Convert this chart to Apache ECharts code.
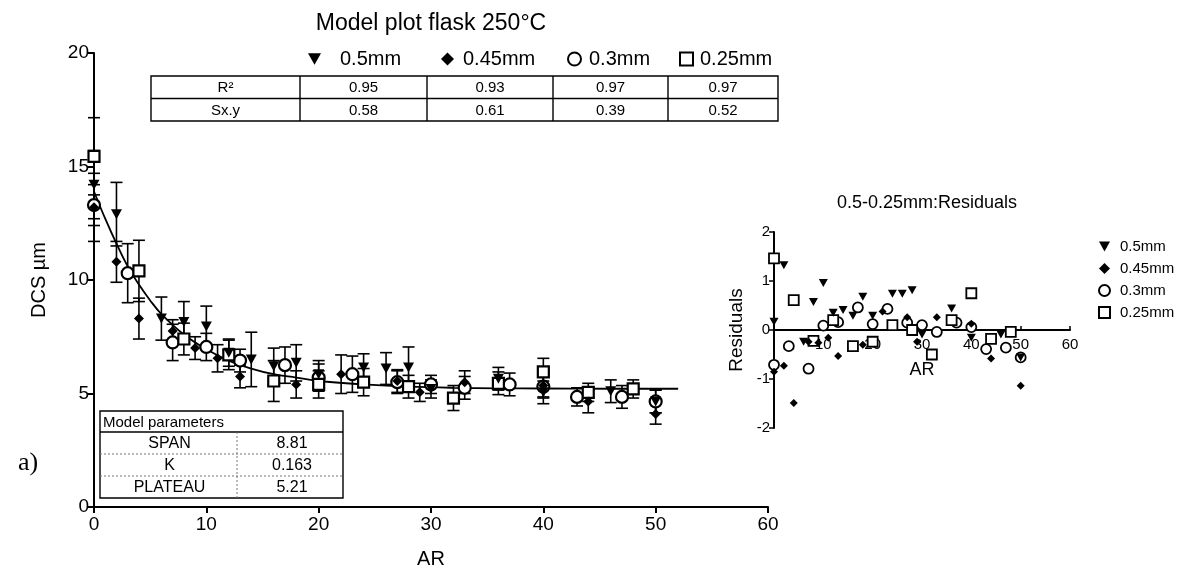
<!DOCTYPE html>
<html>
<head>
<meta charset="utf-8">
<script src="https://cdn.jsdelivr.net/npm/echarts@6/dist/echarts.min.js"></script>
<style>
  html, body { margin: 0; padding: 0; background: #fff; }
  #chart { width: 1185px; height: 571px; }
</style>
</head>
<body>
<div id="chart"></div>
<script>
// ---- series names ----
const seriesNames = ['0.5mm', '0.45mm', '0.3mm', '0.25mm'];

// ---- DCS (µm) vs AR, mean ± SD ----
const triX   = [0, 2, 6, 8, 10, 12, 14, 16, 18, 20, 24, 26, 28, 30, 36, 40, 46, 50];
const triY   = [14.2, 12.9, 8.3, 8.15, 7.95, 6.8, 6.5, 6.2, 6.35, 5.85, 6.15, 6.1, 6.15, 5.2, 5.65, 5.05, 5.1, 4.65];
const triErr = [1.5, 1.4, 0.95, 0.9, 0.9, 0.6, 1.2, 0.8, 0.8, 0.6, 0.6, 0.7, 0.9, 0.4, 0.5, 0.5, 0.5, 0.5];

const diaX   = [0, 2, 4, 7, 9, 11, 13, 18, 22, 27, 29, 33, 40, 44, 50];
const diaY   = [13.2, 10.8, 8.3, 7.75, 7.0, 6.55, 5.75, 5.4, 5.85, 5.55, 5.05, 5.5, 5.35, 4.65, 4.1];
const diaErr = [1.5, 0.9, 0.9, 0.5, 0.5, 0.6, 0.5, 0.6, 0.85, 0.5, 0.4, 0.5, 0.5, 0.5, 0.45];

const cirX   = [0, 3, 7, 10, 13, 17, 20, 23, 27, 30, 33, 37, 40, 43, 47, 50];
const cirY   = [13.3, 10.3, 7.25, 7.05, 6.45, 6.25, 5.7, 5.85, 5.5, 5.4, 5.25, 5.4, 5.3, 4.85, 4.85, 4.65];
const cirErr = [0.9, 1.3, 0.8, 0.6, 0.5, 0.8, 0.6, 0.8, 0.5, 0.4, 0.5, 0.5, 0.5, 0.4, 0.5, 0.5];

const sqX    = [0, 4, 8, 12, 16, 20, 24, 28, 32, 36, 40, 44, 48];
const sqY    = [15.45, 10.4, 7.4, 6.7, 5.55, 5.4, 5.5, 5.3, 4.8, 5.45, 5.95, 5.05, 5.2];
const sqErr  = [1.7, 1.35, 0.7, 0.65, 0.9, 0.6, 0.6, 0.5, 0.55, 0.5, 0.6, 0.4, 0.4];

// ---- fitted one-phase decay curve ----
const curveX = [0, 1, 2, 3, 4, 5, 6, 8, 10, 12, 14, 16, 18, 20, 24, 28, 32, 36, 40, 46, 52];
const curveY = [13.9, 12.7, 11.6, 10.6, 9.8, 9.1, 8.5, 7.6, 6.95, 6.45, 6.1, 5.85, 5.7, 5.55, 5.4, 5.3, 5.25, 5.23, 5.22, 5.21, 5.21];

// ---- residuals ----
const triResX = [0, 2, 6, 8, 10, 12, 14, 16, 18, 20, 24, 26, 28, 30, 36, 40, 46, 50];
const triRes  = [0.17, 1.32, -0.24, 0.57, 0.96, 0.35, 0.41, 0.29, 0.68, 0.29, 0.74, 0.74, 0.81, -0.09, 0.44, -0.16, -0.09, -0.56];
const diaResX = [0, 2, 4, 7, 9, 11, 13, 18, 22, 27, 29, 33, 40, 44, 50];
const diaRes  = [-0.85, -0.73, -1.49, -0.24, -0.26, -0.16, -0.53, -0.3, 0.38, 0.26, -0.24, 0.26, 0.13, -0.58, -1.14];
const cirResX = [0, 3, 7, 10, 13, 17, 20, 23, 27, 30, 33, 37, 40, 43, 47, 50];
const cirRes  = [-0.71, -0.33, -0.79, 0.09, 0.16, 0.46, 0.12, 0.43, 0.15, 0.1, -0.04, 0.15, 0.06, -0.39, -0.36, -0.56];
const sqResX  = [0, 4, 8, 12, 16, 20, 24, 28, 32, 36, 40, 44, 48];
const sqRes   = [1.46, 0.61, -0.22, 0.2, -0.33, -0.24, 0.1, 0.0, -0.5, 0.2, 0.75, -0.18, -0.04];

// ---- fit statistics tables ----
const statRowLabels = ['R²', 'Sx.y'];
const statR2  = ['0.95', '0.93', '0.97', '0.97'];
const statSxy = ['0.58', '0.61', '0.39', '0.52'];
const paramNames  = ['SPAN', 'K', 'PLATEAU'];
const paramValues = ['8.81', '0.163', '5.21'];

// ---- ticks ----
const mainXTicks = [0, 60, 10];
const mainYTicks = [0, 20, 5];
const resXTicks  = [0, 60, 10];
const resYTicks  = [-2, 2, 1];

const FONT = '"Liberation Sans", Arial, sans-serif';
const DOWN_TRIANGLE = 'path://M0,0 L10,0 L5,9 Z';

const chart = echarts.init(document.getElementById('chart'), null, { renderer: 'canvas' });

const pairs = (xs, ys) => xs.map((x, i) => [x, ys[i]]);
const bars = (xs, ys, es) => xs.map((x, i) => [x, ys[i] - es[i], ys[i] + es[i]]);

// marker styles; open markers get a lower z so filled markers sit on top of them
const symbolDefs = [
  { symbol: DOWN_TRIANGLE, size: [11, 10], resSize: [9, 8], z: 6, style: { color: '#000', opacity: 1 } },
  { symbol: 'diamond', size: 10, resSize: 8, z: 6, style: { color: '#000', opacity: 1 } },
  { symbol: 'circle', size: 12, resSize: 10, z: 4, style: { color: '#fff', borderColor: '#000', borderWidth: 2.2, opacity: 1 } },
  { symbol: 'rect', size: 11, resSize: 10, z: 5, style: { color: '#fff', borderColor: '#000', borderWidth: 2.2, opacity: 1 } }
];
const legendIcons = [DOWN_TRIANGLE, 'diamond', 'circle', 'rect'];

const mainData = [
  { x: triX, y: triY, e: triErr },
  { x: diaX, y: diaY, e: diaErr },
  { x: cirX, y: cirY, e: cirErr },
  { x: sqX, y: sqY, e: sqErr }
];
const resData = [
  { x: triResX, r: triRes },
  { x: diaResX, r: diaRes },
  { x: cirResX, r: cirRes },
  { x: sqResX, r: sqRes }
];

function errorBarRender(params, api) {
  const x = api.value(0);
  const lo = api.coord([x, api.value(1)]);
  const hi = api.coord([x, api.value(2)]);
  const half = 6;
  const st = { stroke: '#000', lineWidth: 1.6 };
  return {
    type: 'group',
    children: [
      { type: 'line', shape: { x1: lo[0], y1: lo[1], x2: hi[0], y2: hi[1] }, style: st },
      { type: 'line', shape: { x1: lo[0] - half, y1: lo[1], x2: lo[0] + half, y2: lo[1] }, style: st },
      { type: 'line', shape: { x1: hi[0] - half, y1: hi[1], x2: hi[0] + half, y2: hi[1] }, style: st }
    ]
  };
}

const series = [];
// error bars first so markers sit on top
mainData.forEach((d, i) => {
  series.push({
    type: 'custom', name: seriesNames[i] + ' SD', xAxisIndex: 0, yAxisIndex: 0,
    renderItem: errorBarRender, data: bars(d.x, d.y, d.e), z: 2, silent: true
  });
});
series.push({
  type: 'line', name: 'fit', xAxisIndex: 0, yAxisIndex: 0,
  data: pairs(curveX, curveY), smooth: 0.4, showSymbol: false,
  lineStyle: { color: '#000', width: 1.8 }, z: 3, silent: true
});
mainData.forEach((d, i) => {
  const s = symbolDefs[i];
  series.push({
    type: 'scatter', name: seriesNames[i], xAxisIndex: 0, yAxisIndex: 0,
    data: pairs(d.x, d.y), symbol: s.symbol, symbolSize: s.size,
    itemStyle: s.style, z: s.z
  });
});
resData.forEach((d, i) => {
  const s = symbolDefs[i];
  const st = Object.assign({}, s.style);
  if (st.borderWidth) st.borderWidth = 1.8;
  series.push({
    type: 'scatter', name: seriesNames[i], xAxisIndex: 1, yAxisIndex: 1,
    data: pairs(d.x, d.r), symbol: s.symbol, symbolSize: s.resSize,
    itemStyle: st, z: s.z
  });
});

// legend above the main plot: one legend per entry so each can be spaced freely
const mainLegendSpots = [
  { left: 303, pad: 14 },
  { left: 436, pad: 4 },
  { left: 562, pad: 3 },
  { left: 674, pad: 2 }
];
const legends = mainLegendSpots.map((p, i) => ({
  data: [{ name: seriesNames[i], icon: legendIcons[i] }],
  left: p.left, top: 44, itemWidth: 13, itemHeight: 13, selectedMode: false,
  textStyle: { fontSize: 20, color: '#000', fontFamily: FONT, padding: [0, 0, 0, p.pad] }
}));
legends.push({
  data: seriesNames.map((n, i) => ({ name: n, icon: legendIcons[i] })),
  orient: 'vertical', left: 1093, top: 234, itemWidth: 11, itemHeight: 11, itemGap: 7,
  selectedMode: false,
  textStyle: { fontSize: 15, color: '#000', fontFamily: FONT, padding: [0, 0, 0, 5] }
});

// table geometry (graphic layer)
const graphics = [];
function rect(x, y, w, h, lw) {
  graphics.push({ type: 'rect', shape: { x, y, width: w, height: h }, style: { fill: '#fff', stroke: '#000', lineWidth: lw }, z: 10 });
}
function hline(x1, x2, y, dash, lw) {
  graphics.push({ type: 'line', shape: { x1, y1: y, x2, y2: y }, style: { stroke: dash ? '#777' : '#000', lineWidth: lw || 1, lineDash: dash ? [2, 2] : null }, z: 11 });
}
function vline(x, y1, y2, dash, lw) {
  graphics.push({ type: 'line', shape: { x1: x, y1, x2: x, y2 }, style: { stroke: dash ? '#777' : '#000', lineWidth: lw || 1, lineDash: dash ? [2, 2] : null }, z: 11 });
}
function txt(text, x, y, size, align, family) {
  graphics.push({ type: 'text', x, y, style: { text, fill: '#000', font: size + 'px ' + (family || FONT), textAlign: align || 'center', textVerticalAlign: 'middle' }, z: 12 });
}

// R² / Sx.y table
const colEdges = [151, 300, 427, 553, 668, 778];
const rowTop = 76, rowMid = 98.5, rowBot = 121;
rect(colEdges[0], rowTop, colEdges[5] - colEdges[0], rowBot - rowTop, 1.4);
hline(colEdges[0], colEdges[5], rowMid, false, 1.4);
for (let c = 1; c < 5; c++) vline(colEdges[c], rowTop, rowBot, false, 1.4);
const statRows = [statR2, statSxy];
statRowLabels.forEach((lab, r) => {
  const yc = r === 0 ? (rowTop + rowMid) / 2 + 1 : (rowMid + rowBot) / 2 + 1;
  txt(lab, (colEdges[0] + colEdges[1]) / 2, yc, 15);
  statRows[r].forEach((v, c) => txt(v, (colEdges[c + 1] + colEdges[c + 2]) / 2, yc, 15));
});

// model parameters table
const pL = 100, pR = 343, pDiv = 237;
const pRows = [411, 432, 454, 476, 498];
rect(pL, pRows[0], pR - pL, pRows[4] - pRows[0], 1.4);
hline(pL, pR, pRows[1], false, 1.4);
hline(pL, pR, pRows[2], true, 1);
hline(pL, pR, pRows[3], true, 1);
vline(pDiv, pRows[1], pRows[4], true, 1);
txt('Model parameters', pL + 3, (pRows[0] + pRows[1]) / 2 + 1, 15, 'left');
paramNames.forEach((n, i) => {
  const yc = (pRows[i + 1] + pRows[i + 2]) / 2 + 1;
  txt(n, (pL + pDiv) / 2 + 1, yc, 16);
  txt(paramValues[i], (pDiv + pR) / 2 + 2, yc, 16);
});

// panel tag
txt('a)', 18, 463, 26, 'left', '"Liberation Serif", "Times New Roman", serif');

const option = {
  backgroundColor: '#fff',
  animation: false,
  textStyle: { fontFamily: FONT, color: '#000' },
  title: [
    { text: 'Model plot flask 250°C', left: 426, top: 7, textAlign: 'center',
      textStyle: { fontSize: 23, fontWeight: 'normal', color: '#000', fontFamily: FONT } },
    { text: '0.5-0.25mm:Residuals', left: 922, top: 189, textAlign: 'center',
      textStyle: { fontSize: 18, fontWeight: 'normal', color: '#000', fontFamily: FONT } }
  ],
  legend: legends,
  grid: [
    { left: 94, right: 417, top: 53, bottom: 64, outerBoundsMode: 'none', containLabel: false },
    { left: 774, right: 115, top: 232, bottom: 143, outerBoundsMode: 'none', containLabel: false }
  ],
  xAxis: [
    { type: 'value', gridIndex: 0, min: mainXTicks[0], max: mainXTicks[1], interval: mainXTicks[2],
      name: 'AR', nameLocation: 'middle', nameGap: 42, nameTextStyle: { fontSize: 20, color: '#000' },
      axisLine: { lineStyle: { color: '#000', width: 2 } },
      axisTick: { length: 6, inside: false, lineStyle: { color: '#000', width: 2 } },
      axisLabel: { fontSize: 19, color: '#000', margin: 8 }, splitLine: { show: false } },
    { type: 'value', gridIndex: 1, min: resXTicks[0], max: resXTicks[1], interval: resXTicks[2],
      offset: -98,
      name: 'AR', nameLocation: 'middle', nameGap: 31, nameTextStyle: { fontSize: 18, color: '#000' },
      axisLine: { onZero: false, lineStyle: { color: '#000', width: 2 } },
      axisTick: { show: true, inside: true, length: 4, lineStyle: { color: '#000', width: 1.5 } },
      axisLabel: { fontSize: 15, color: '#000', margin: 7, formatter: v => (v === 0 ? '' : String(v)) },
      splitLine: { show: false } }
  ],
  yAxis: [
    { type: 'value', gridIndex: 0, min: mainYTicks[0], max: mainYTicks[1], interval: mainYTicks[2],
      name: 'DCS µm', nameLocation: 'middle', nameGap: 45, nameRotate: 90, nameTextStyle: { fontSize: 20, color: '#000' },
      axisLine: { show: true, lineStyle: { color: '#000', width: 2 } },
      axisTick: { show: true, length: 6, lineStyle: { color: '#000', width: 2 } },
      axisLabel: { fontSize: 19, color: '#000', margin: 5 }, splitLine: { show: false } },
    { type: 'value', gridIndex: 1, min: resYTicks[0], max: resYTicks[1], interval: resYTicks[2],
      name: 'Residuals', nameLocation: 'middle', nameGap: 28, nameRotate: 90, nameTextStyle: { fontSize: 19, color: '#000' },
      axisLine: { show: true, onZero: false, lineStyle: { color: '#000', width: 2 } },
      axisTick: { show: true, length: 5, lineStyle: { color: '#000', width: 1.5 } },
      axisLabel: { fontSize: 15, color: '#000', margin: 4 }, splitLine: { show: false } }
  ],
  series: series,
  graphic: graphics
};

chart.setOption(option);
</script>
</body>
</html>
